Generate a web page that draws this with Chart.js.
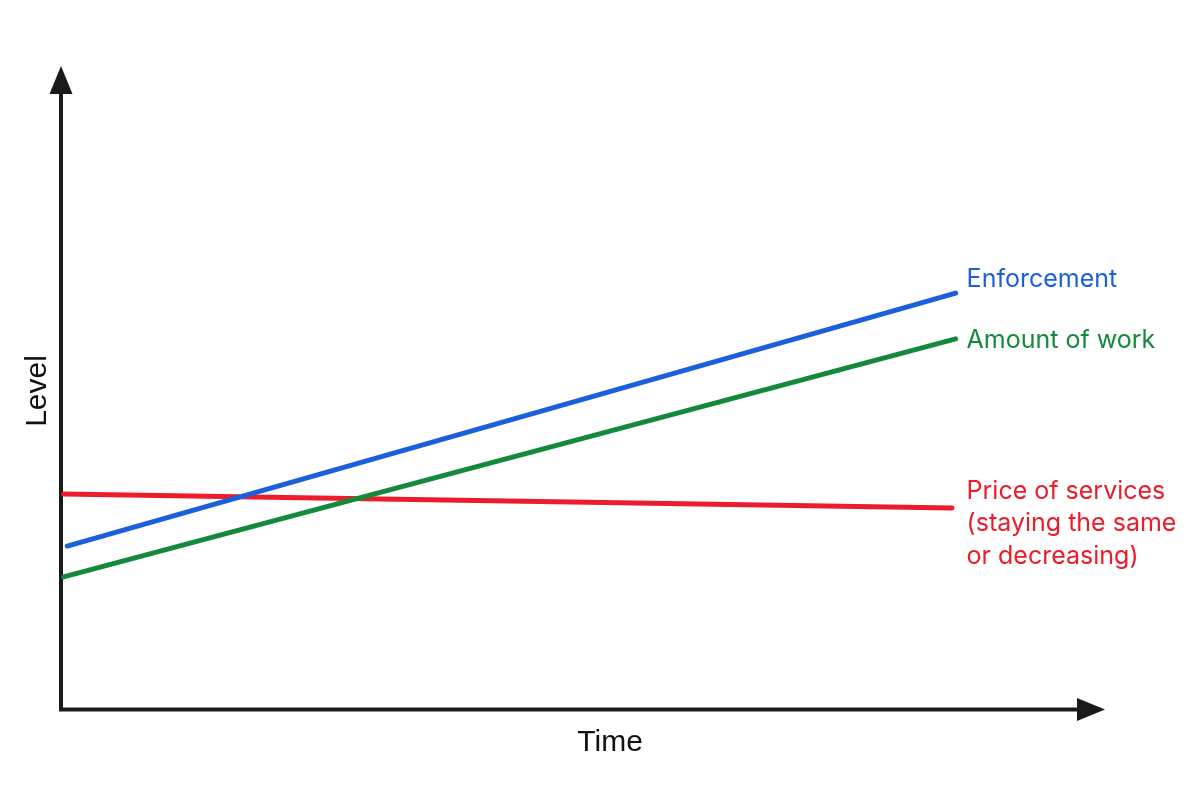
<!DOCTYPE html>
<html lang="en">
  <head>
    <meta charset="UTF-8" />
    <script src="https://cdn.jsdelivr.net/npm/chart.js"></script>
    <title>Level over time</title>
    <style>
      body { margin: 0; background: #fff; }
      .wrap { width: 1200px; height: 787px; }
    </style>
  </head>
  <body>
    <div class="wrap"><canvas id="grafico"></canvas></div>

    <script>
      // valores (escala conceitual 0-100)
      var seriesNames = ["Enforcement", "Amount of work", "Price of services"];
      var enforcementX = [0.07, 10];
      var enforcementY = [25.4, 64.7];
      var workX = [0.03, 10];
      var workY = [20.6, 57.6];
      var priceX = [0.03, 9.96];
      var priceY = [33.5, 31.3];
      var seriesLabels = [
        ["Enforcement"],
        ["Amount of work"],
        ["Price of services", "(staying the same", "or decreasing)"],
      ];
      var xTitle = "Time";
      var yTitle = "Level";

      function pontos(xs, ys) {
        return xs.map(function (x, i) {
          return { x: x, y: ys[i] };
        });
      }

      var cores = ["#1c5fdd", "#13893c", "#ec1c2b"];

      // desenha eixos com setas, titulos e rotulos das series
      var eixosPlugin = {
        id: "eixos",
        beforeDatasetsDraw: function (chart) {
          var ctx = chart.ctx;
          var a = chart.chartArea;
          ctx.save();
          ctx.strokeStyle = "#1a1a1a";
          ctx.fillStyle = "#1a1a1a";
          ctx.lineWidth = 4;
          ctx.lineJoin = "miter";
          ctx.beginPath();
          ctx.moveTo(a.left, a.top + 26);
          ctx.lineTo(a.left, a.bottom);
          ctx.lineTo(a.right - 26, a.bottom);
          ctx.stroke();
          // seta y
          ctx.beginPath();
          ctx.moveTo(a.left, a.top);
          ctx.lineTo(a.left - 11.5, a.top + 28);
          ctx.lineTo(a.left + 11.5, a.top + 28);
          ctx.closePath();
          ctx.fill();
          // seta x
          ctx.beginPath();
          ctx.moveTo(a.right, a.bottom);
          ctx.lineTo(a.right - 28, a.bottom - 11.5);
          ctx.lineTo(a.right - 28, a.bottom + 11.5);
          ctx.closePath();
          ctx.fill();

          ctx.fillStyle = "#111";
          ctx.font = "30px 'Liberation Sans', Arial, sans-serif";
          ctx.textAlign = "center";
          ctx.textBaseline = "middle";
          ctx.fillText(xTitle, a.left + (a.right - a.left) * 0.526, a.bottom + 33);
          ctx.translate(37.5, 391);
          ctx.rotate(-Math.PI / 2);
          ctx.fillText(yTitle, 0, 0);
          ctx.restore();
        },
        afterDatasetsDraw: function (chart, args, opts) {
          var ctx = chart.ctx;
          var xLabel = chart.scales.x.getPixelForValue(10) + 11;
          ctx.save();
          ctx.font = "25px Inter, 'Noto Sans', sans-serif";
          ctx.textAlign = "left";
          ctx.textBaseline = "middle";
          chart.data.datasets.forEach(function (ds, i) {
            var meta = chart.getDatasetMeta(i);
            var ult = meta.data[meta.data.length - 1];
            ctx.fillStyle = ds.borderColor;
            seriesLabels[i].forEach(function (linha, j) {
              ctx.fillText(linha, xLabel, ult.y + opts.offsets[i] + j * 32.5);
            });
          });
          ctx.restore();
        },
      };

      var grafico = new Chart(document.getElementById("grafico"), {
        type: "line",
        data: {
          datasets: [
            { label: seriesNames[0], data: pontos(enforcementX, enforcementY), borderColor: cores[0] },
            { label: seriesNames[1], data: pontos(workX, workY), borderColor: cores[1] },
            { label: seriesNames[2], data: pontos(priceX, priceY), borderColor: cores[2] },
          ],
        },
        options: {
          responsive: true,
          maintainAspectRatio: false,
          animation: false,
          devicePixelRatio: 1,
          layout: { padding: { left: 61, top: 66, right: 95, bottom: 77.5 } },
          elements: {
            line: { borderWidth: 5, borderCapStyle: "round", tension: 0 },
            point: { radius: 0 },
          },
          plugins: {
            legend: { display: false },
            tooltip: { enabled: false },
            eixos: { offsets: [-14, 2, -17] },
          },
          scales: {
            x: { type: "linear", min: 0, max: 11.67, display: false },
            y: { min: 0, max: 100, display: false },
          },
        },
        plugins: [eixosPlugin],
      });
    </script>
  </body>
</html>
